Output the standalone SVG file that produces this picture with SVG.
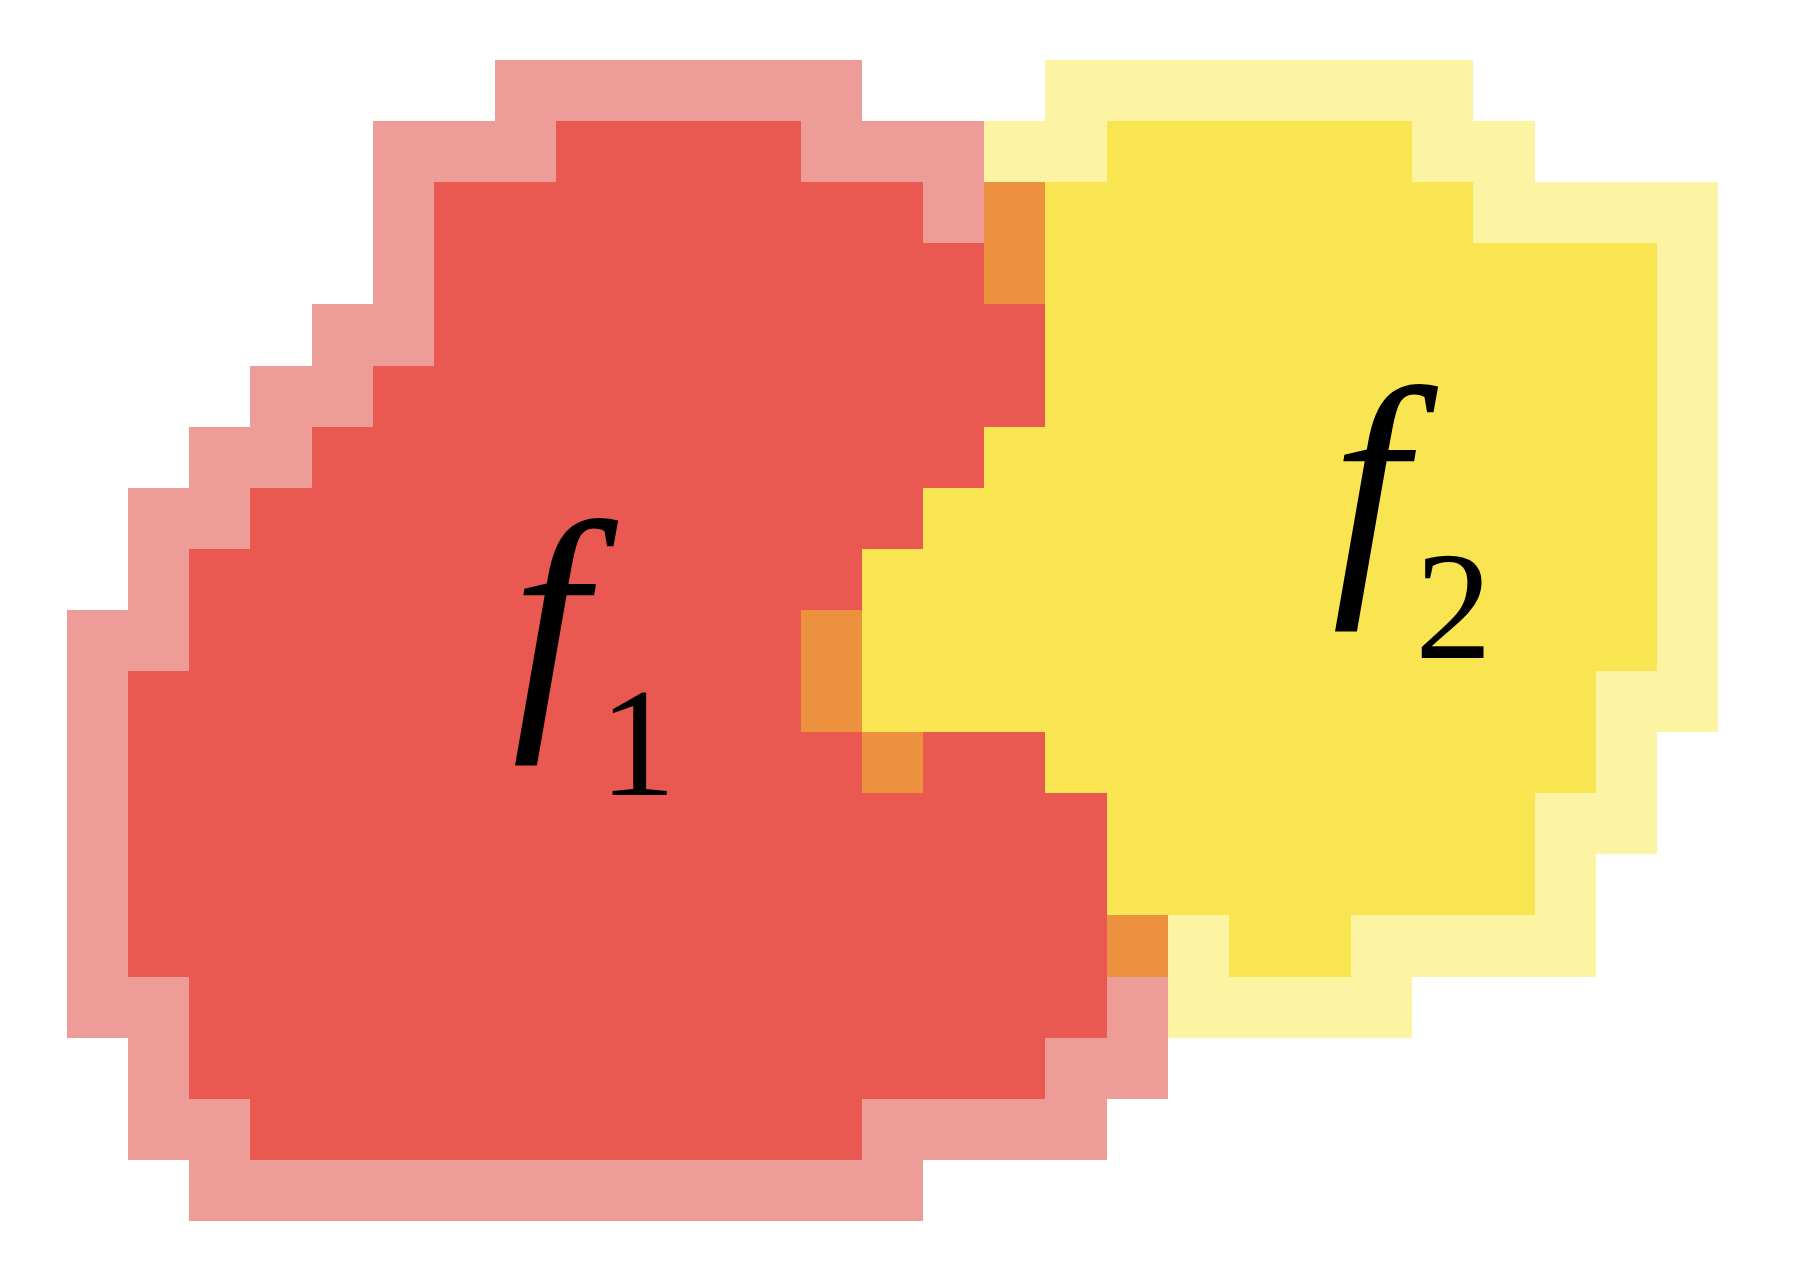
<svg xmlns="http://www.w3.org/2000/svg" width="1799" height="1283" viewBox="0 0 1799 1283">
<style>
.lr{fill:#EE9C98}.dr{fill:#EA5852}.or{fill:#EC913E}.y{fill:#F9E552}.ly{fill:#FCF4A2}
rect{shape-rendering:crispEdges}
text{font-family:'Liberation Serif','Nimbus Roman','Nimbus Roman No9 L','TeX Gyre Termes','FreeSerif','Times New Roman',Times,'Noto Serif',serif;fill:#000}
.f{font-style:italic;font-size:270px}
.s{font-size:154px}
</style>
<rect width="1799" height="1283" fill="#fff"/>
<g transform="translate(67,60) scale(61.15,61.1)">
<g id="f1-outer" class="lr">
<rect x="7" y="0" width="6" height="1"/>
<rect x="5" y="1" width="3" height="1"/><rect x="12" y="1" width="3" height="1"/>
<rect x="5" y="2" width="1" height="1"/><rect x="14" y="2" width="1" height="1"/>
<rect x="5" y="3" width="1" height="1"/>
<rect x="4" y="4" width="2" height="1"/>
<rect x="3" y="5" width="2" height="1"/>
<rect x="2" y="6" width="2" height="1"/>
<rect x="1" y="7" width="2" height="1"/>
<rect x="1" y="8" width="1" height="1"/>
<rect x="0" y="9" width="2" height="1"/>
<rect x="0" y="10" width="1" height="5"/>
<rect x="0" y="15" width="2" height="1"/><rect x="17" y="15" width="1" height="1"/>
<rect x="1" y="16" width="1" height="1"/><rect x="16" y="16" width="2" height="1"/>
<rect x="1" y="17" width="2" height="1"/><rect x="13" y="17" width="4" height="1"/>
<rect x="2" y="18" width="12" height="1"/>
</g>
<g id="f1-inner" class="dr">
<rect x="8" y="1" width="4" height="1"/>
<rect x="6" y="2" width="8" height="1"/>
<rect x="6" y="3" width="9" height="1"/>
<rect x="6" y="4" width="10" height="1"/>
<rect x="5" y="5" width="11" height="1"/>
<rect x="4" y="6" width="11" height="1"/>
<rect x="3" y="7" width="11" height="1"/>
<rect x="2" y="8" width="11" height="1"/>
<rect x="2" y="9" width="10" height="1"/>
<rect x="1" y="10" width="11" height="1"/>
<rect x="1" y="11" width="12" height="1"/><rect x="14" y="11" width="2" height="1"/>
<rect x="1" y="12" width="16" height="3"/>
<rect x="2" y="15" width="15" height="1"/>
<rect x="2" y="16" width="14" height="1"/>
<rect x="3" y="17" width="10" height="1"/>
</g>
<g id="f2-outer" class="ly">
<rect x="16" y="0" width="7" height="1"/>
<rect x="15" y="1" width="2" height="1"/><rect x="22" y="1" width="2" height="1"/>
<rect x="23" y="2" width="4" height="1"/>
<rect x="26" y="3" width="1" height="7"/>
<rect x="25" y="10" width="2" height="1"/>
<rect x="25" y="11" width="1" height="1"/>
<rect x="24" y="12" width="2" height="1"/>
<rect x="24" y="13" width="1" height="1"/>
<rect x="18" y="14" width="1" height="1"/><rect x="21" y="14" width="4" height="1"/>
<rect x="18" y="15" width="4" height="1"/>
</g>
<g id="f2-inner" class="y">
<rect x="17" y="1" width="5" height="1"/>
<rect x="16" y="2" width="7" height="1"/>
<rect x="16" y="3" width="10" height="3"/>
<rect x="15" y="6" width="11" height="1"/>
<rect x="14" y="7" width="12" height="1"/>
<rect x="13" y="8" width="13" height="2"/>
<rect x="13" y="10" width="12" height="1"/>
<rect x="16" y="11" width="9" height="1"/>
<rect x="17" y="12" width="7" height="2"/>
<rect x="19" y="14" width="2" height="1"/>
</g>
<g id="overlap" class="or">
<rect x="15" y="2" width="1" height="2"/>
<rect x="12" y="9" width="1" height="2"/>
<rect x="13" y="11" width="1" height="1"/>
<rect x="17" y="14" width="1" height="1"/>
</g>
</g>
<g id="label-f1">
<text class="f" x="512" y="708">f</text>
<text class="s" x="599" y="795">1</text>
</g>
<g id="label-f2">
<text class="f" x="1332" y="574">f</text>
<text class="s" x="1415" y="658">2</text>
</g>
</svg>
